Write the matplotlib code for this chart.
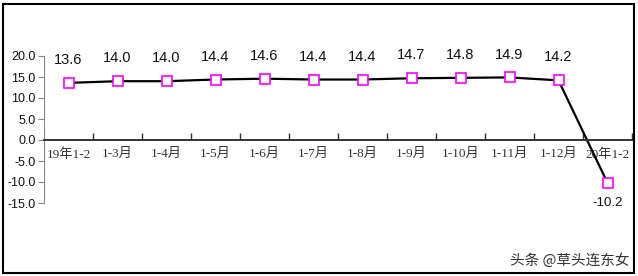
import matplotlib
matplotlib.use("Agg")
import matplotlib.pyplot as plt
from matplotlib.patches import Rectangle

categories = ["19年1-2", "1-3月", "1-4月", "1-5月", "1-6月", "1-7月", "1-8月",
              "1-9月", "1-10月", "1-11月", "1-12月", "20年1-2"]
values = [13.6, 14.0, 14.0, 14.4, 14.6, 14.4, 14.4, 14.7, 14.8, 14.9, 14.2, -10.2]
yticks = [20.0, 15.0, 10.0, 5.0, 0.0, -5.0, -10.0, -15.0]

W, H = 638, 276
fig = plt.figure(figsize=(W / 100, H / 100), dpi=100)
ax = fig.add_axes([44 / W, (H - 203) / H, (632 - 44) / W, (203 - 56) / H])

x = list(range(len(categories)))
ax.plot(x, values, color="black", lw=1.6, zorder=2,
        marker="s", markersize=7, markerfacecolor="white",
        markeredgecolor="#FF00FF", markeredgewidth=1.2)

ax.set_xlim(-0.5, len(categories) - 0.5)
ax.set_ylim(-15, 20)

for s in ["top", "right"]:
    ax.spines[s].set_visible(False)
ax.spines["bottom"].set_position(("data", 0))
ax.spines["bottom"].set_color("#333333")
ax.spines["bottom"].set_linewidth(1.4)
ax.spines["left"].set_color("#888888")
ax.spines["left"].set_linewidth(0.8)

ax.set_yticks(yticks)
ax.set_yticklabels([f"{v:.1f}" for v in yticks], fontfamily="Liberation Sans",
                   fontsize=9, color="#111111")
ax.tick_params(axis="y", direction="out", length=4, width=0.8, color="#888888", pad=2)

ax.set_xticks([i + 0.5 for i in range(len(categories))])
ax.set_xticklabels([])
ax.tick_params(axis="x", which="major", direction="in", length=5, width=1, color="#333333")
ax.set_xticks(x, minor=True)
ax.set_xticklabels(categories, minor=True,
                   fontfamily=["Liberation Serif", "Noto Sans CJK SC", "DejaVu Sans"],
                   fontsize=9.5, color="#333333")
ax.tick_params(axis="x", which="minor", length=0, pad=6)

for xi, v in zip(x, values):
    if v >= 0:
        ax.annotate(f"{v:.1f}", (xi, v), xytext=(0, 16.5), textcoords="offset points",
                    ha="center", va="center", fontfamily="Liberation Sans", fontsize=10.5,
                    color="#111111", annotation_clip=False)
    else:
        ax.annotate(f"{v:.1f}", (xi, v), xytext=(0, -14.5), textcoords="offset points",
                    ha="center", va="center", fontfamily="Liberation Sans", fontsize=9.5,
                    color="#111111", annotation_clip=False)

fig.patches.append(Rectangle((3 / W, 3 / H), (634 - 3) / W, (272 - 3) / H,
                             transform=fig.transFigure, fill=False,
                             edgecolor="black", lw=1.5))

fig.text(630 / W, (H - 260) / H, "头条 @草头连东女", ha="right", va="center",
         fontfamily=["Noto Sans CJK SC", "DejaVu Sans"], fontsize=10.5, color="#333333")

fig.savefig("out.png", dpi=100)
